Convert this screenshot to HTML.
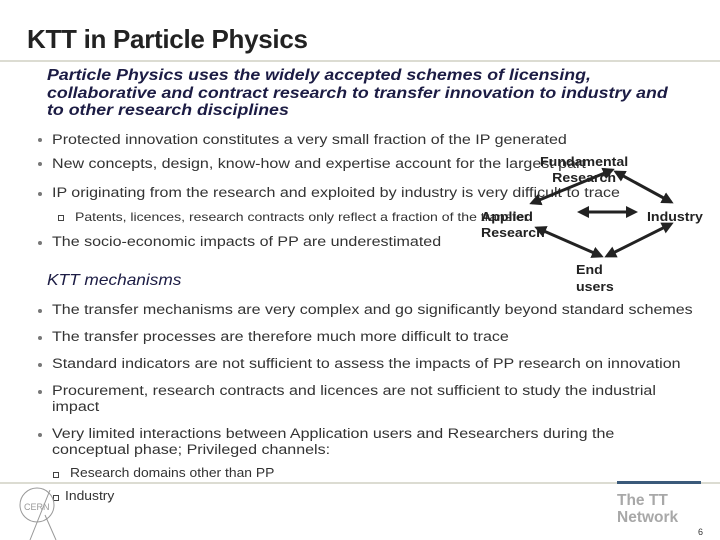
<!DOCTYPE html>
<html><head><meta charset="utf-8"><style>
body{margin:0;width:720px;height:540px;background:#fff;position:relative;overflow:hidden;font-family:"Liberation Sans",Arial,sans-serif;color:#333}
.a{position:absolute;white-space:nowrap;transform-origin:0 0}
.b{font-size:14.2px;line-height:16px;transform:scaleX(1.13)}
.d{position:absolute;width:4px;height:4px;background:#777;border-radius:2px}
.s{position:absolute;width:4px;height:4px;border:1px solid #444}
.g{font-weight:bold;font-size:13px;color:#222;line-height:16px;transform:scaleX(1.09)}
</style></head><body>
<div class="a" style="left:27px;top:24px;font-size:26px;font-weight:bold;color:#222;letter-spacing:-0.3px">KTT in Particle Physics</div>
<div style="position:absolute;left:0;top:60px;width:720px;height:2px;background:#dcdcd2"></div>
<div class="a" style="left:47px;top:67px;font-size:16px;font-weight:bold;font-style:italic;color:#1c1c44;line-height:17.5px;transform:scaleX(1.11)">Particle Physics uses the widely accepted schemes of licensing,<br>collaborative and contract research to transfer innovation to industry and<br>to other research disciplines</div>

<div class="d" style="left:38px;top:138px"></div><div class="a b" style="left:52px;top:132px">Protected innovation constitutes a very small fraction of the IP generated</div>
<div class="d" style="left:38px;top:162px"></div><div class="a b" style="left:52px;top:156px">New concepts, design, know-how and expertise account for the largest part</div>
<div class="d" style="left:38px;top:192px"></div><div class="a b" style="left:52px;top:185px">IP originating from the research and exploited by industry is very difficult to trace</div>
<div class="s" style="left:58px;top:215px"></div><div class="a" style="left:75px;top:210px;font-size:12px;transform:scaleX(1.17)">Patents, licences, research contracts only reflect a fraction of the transfer</div>
<div class="d" style="left:38px;top:241px"></div><div class="a b" style="left:52px;top:234px">The socio-economic impacts of PP are underestimated</div>

<div class="a" style="left:47px;top:272px;font-size:16px;font-style:italic;color:#1c1c44;transform:scaleX(1.08)">KTT mechanisms</div>

<div class="d" style="left:38px;top:309px"></div><div class="a b" style="left:52px;top:302px">The transfer mechanisms are very complex and go significantly beyond standard schemes</div>
<div class="d" style="left:38px;top:336px"></div><div class="a b" style="left:52px;top:329px">The transfer processes are therefore much more difficult to trace</div>
<div class="d" style="left:38px;top:363px"></div><div class="a b" style="left:52px;top:356px">Standard indicators are not sufficient to assess the impacts of PP research on innovation</div>
<div class="d" style="left:38px;top:390px"></div><div class="a b" style="left:52px;top:383px">Procurement, research contracts and licences are not sufficient to study the industrial<br>impact</div>
<div class="d" style="left:38px;top:433px"></div><div class="a b" style="left:52px;top:426px">Very limited interactions between Application users and Researchers during the<br>conceptual phase; Privileged channels:</div>
<div class="s" style="left:53px;top:472px"></div><div class="a" style="left:70px;top:466px;font-size:12.5px;transform:scaleX(1.11)">Research domains other than PP</div>
<div style="position:absolute;left:0;top:482px;width:720px;height:2px;background:#dcdcd2"></div>
<div style="position:absolute;left:617px;top:481px;width:84px;height:3px;background:#3b5a7a"></div>
<div class="s" style="left:53px;top:495px"></div><div class="a" style="left:65px;top:489px;font-size:12.5px;transform:scaleX(1.11)">Industry</div>

<div class="a g" style="left:540px;top:154px;text-align:center">Fundamental<br>Research</div>
<div class="a g" style="left:481px;top:209px">Applied<br>Research</div>
<div class="a g" style="left:647px;top:209px">Industry</div>
<div class="a g" style="left:576px;top:261px;line-height:17px">End<br>users</div>

<svg style="position:absolute;left:0;top:0" width="720" height="540">
<defs><marker id="h" markerWidth="4" markerHeight="4" refX="3" refY="2" orient="auto-start-reverse"><path d="M0,0L4,2L0,4z" fill="#222"/></marker></defs>
<g stroke="#222" stroke-width="3" marker-start="url(#h)" marker-end="url(#h)">
<line x1="612" y1="170" x2="532" y2="203"/>
<line x1="616" y1="172" x2="671" y2="202"/>
<line x1="580" y1="212" x2="635" y2="212"/>
<line x1="537" y1="228" x2="601" y2="256"/>
<line x1="671" y1="224" x2="607" y2="256"/>
</g>
<g fill="none" stroke="#999" stroke-width="1">
<circle cx="37" cy="505" r="17"/>
<path d="M50,490 L30,540 M45,515 L56,540"/>
<text x="24" y="510" font-size="9" fill="#999" stroke="none" font-family="Liberation Sans">CERN</text>
</g>
</svg>
<div class="a" style="left:617px;top:492px;font-size:15.5px;font-weight:bold;color:#a8a8a8;line-height:17px">The TT<br>Network</div>
<div class="a" style="left:698px;top:527px;font-size:9px;color:#333">6</div>
</body></html>
